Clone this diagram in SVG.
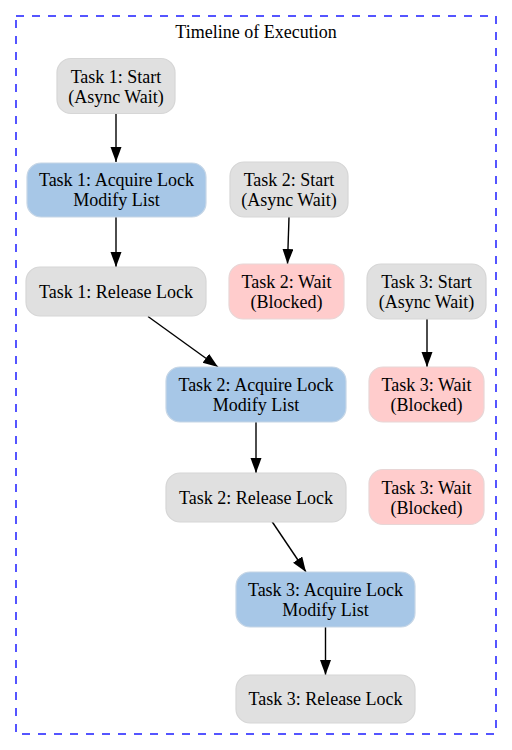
<svg xmlns="http://www.w3.org/2000/svg" width="512" height="750" viewBox="0 0 512 750">
  <defs>
    <style>
      .n { stroke-width: 1.2; }
      .gray { fill: #e0e0e0; stroke: #d6d6d6; }
      .blue { fill: #a7c7e7; stroke: #c6d6e6; }
      .pink { fill: #ffcccc; stroke: #e8d6d6; }
      .e { stroke: #000; stroke-width: 1.4; fill: none; marker-end: url(#ah); }
    </style>
    <marker id="ah" markerUnits="userSpaceOnUse" markerWidth="16" markerHeight="12" refX="15" refY="5.5" orient="auto">
      <path d="M0,0 L15,5.5 L0,11 z" fill="#000"/>
    </marker>
  </defs>
  <rect width="512" height="750" fill="#fff"/>
  <g font-family="'Liberation Serif', 'Times New Roman', Times, serif" font-size="18" text-anchor="middle" fill="#000">
  <g id="cluster">
    <rect x="16" y="16" width="480" height="718" fill="none" stroke="#5555ff" stroke-width="2" stroke-dasharray="8,8"/>
    <text x="256" y="38">Timeline of Execution</text>
  </g>
  <g id="connectors">
    <line class="e" x1="116" y1="113.5" x2="116" y2="162"/>
    <line class="e" x1="116" y1="217" x2="116" y2="267"/>
    <line class="e" x1="289" y1="217" x2="287.5" y2="264"/>
    <line class="e" x1="427" y1="319" x2="427" y2="367"/>
    <line class="e" x1="148" y1="316.5" x2="218" y2="367"/>
    <line class="e" x1="256" y1="422" x2="256" y2="473"/>
    <line class="e" x1="272" y1="521.5" x2="306" y2="572"/>
    <line class="e" x1="325.5" y1="627" x2="325.5" y2="675"/>
  </g>
  <g id="t1start">
    <rect class="n gray" x="57" y="58.5" width="118" height="55" rx="14"/>
    <text x="116" y="82.5">Task 1: Start</text>
    <text x="116" y="102.5">(Async Wait)</text>
  </g>
  <g id="t1acquire">
    <rect class="n blue" x="27" y="163" width="179" height="54" rx="14"/>
    <text x="116.5" y="186">Task 1: Acquire Lock</text>
    <text x="116.5" y="206">Modify List</text>
  </g>
  <g id="t1release">
    <rect class="n gray" x="26" y="267" width="180" height="49" rx="14"/>
    <text x="116" y="297.5">Task 1: Release Lock</text>
  </g>
  <g id="t2start">
    <rect class="n gray" x="230" y="162" width="118" height="55" rx="14"/>
    <text x="289" y="186">Task 2: Start</text>
    <text x="289" y="206">(Async Wait)</text>
  </g>
  <g id="t2wait">
    <rect class="n pink" x="229" y="264" width="115" height="55" rx="14"/>
    <text x="286.5" y="288">Task 2: Wait</text>
    <text x="286.5" y="308">(Blocked)</text>
  </g>
  <g id="t3start">
    <rect class="n gray" x="367" y="264" width="119" height="55" rx="14"/>
    <text x="426.5" y="288">Task 3: Start</text>
    <text x="426.5" y="308">(Async Wait)</text>
  </g>
  <g id="t2acquire">
    <rect class="n blue" x="166" y="367" width="180" height="55" rx="14"/>
    <text x="256" y="391">Task 2: Acquire Lock</text>
    <text x="256" y="411">Modify List</text>
  </g>
  <g id="t3wait1">
    <rect class="n pink" x="369" y="367" width="115" height="55" rx="14"/>
    <text x="426.5" y="391">Task 3: Wait</text>
    <text x="426.5" y="411">(Blocked)</text>
  </g>
  <g id="t2release">
    <rect class="n gray" x="166" y="473" width="180" height="49" rx="14"/>
    <text x="256" y="503.5">Task 2: Release Lock</text>
  </g>
  <g id="t3wait2">
    <rect class="n pink" x="369" y="469.5" width="115" height="55" rx="14"/>
    <text x="426.5" y="493.5">Task 3: Wait</text>
    <text x="426.5" y="513.5">(Blocked)</text>
  </g>
  <g id="t3acquire">
    <rect class="n blue" x="236" y="572" width="179" height="55" rx="14"/>
    <text x="325.5" y="596">Task 3: Acquire Lock</text>
    <text x="325.5" y="616">Modify List</text>
  </g>
  <g id="t3release">
    <rect class="n gray" x="236" y="675" width="179" height="48" rx="14"/>
    <text x="325.5" y="705">Task 3: Release Lock</text>
  </g>
  </g>
</svg>
